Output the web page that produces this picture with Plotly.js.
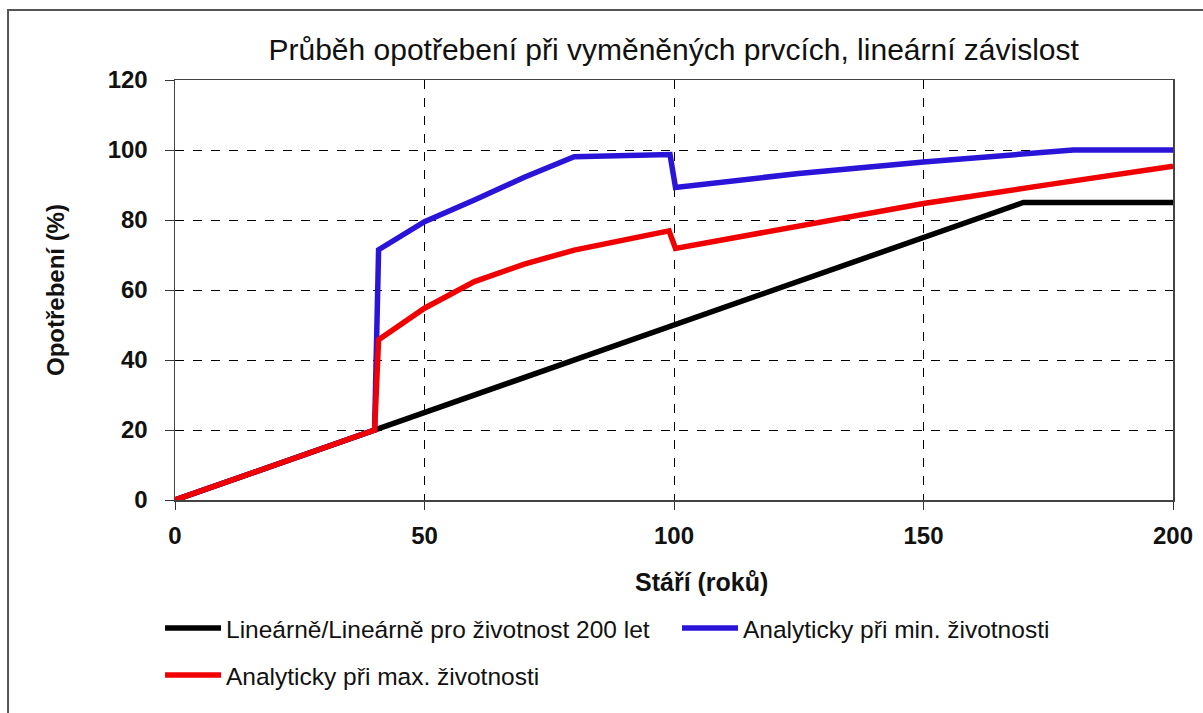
<!DOCTYPE html>
<html>
<head>
<meta charset="utf-8">
<script src="https://cdn.plot.ly/plotly-3.0.1.min.js"></script>
<style>
  html, body { margin: 0; padding: 0; background: #fff; }
  #chart { width: 1203px; height: 713px; }
</style>
</head>
<body>
<div id="chart"></div>
<script>
// data
var linX = [0, 170, 200];
var linY = [0, 85, 85];

var minX = [0, 40, 40.8, 50, 60, 70, 80, 99.2, 100.3, 125, 150, 180, 200];
var minY = [0, 20, 71.5, 79.5, 85.7, 92.2, 98.1, 98.7, 89.3, 93.3, 96.6, 100, 100];

var maxX = [0, 40, 40.8, 50, 60, 70, 80, 99, 100.3, 125, 150, 175, 200];
var maxY = [0, 20, 45.8, 54.8, 62.4, 67.4, 71.4, 76.9, 71.9, 78.3, 84.7, 90.1, 95.4];

var names = [
    'Lineárně/Lineárně pro životnost 200 let',
    'Analyticky při min. životnosti',
    'Analyticky při max. životnosti'
];

var sans = '"Liberation Sans", Arial, sans-serif';

var data = [{
    name: names[0],
    x: linX,
    y: linY,
    type: 'scatter',
    mode: 'lines',
    line: { color: '#000000', width: 5.5 },
    legend: 'legend'
}, {
    name: names[1],
    x: minX,
    y: minY,
    type: 'scatter',
    mode: 'lines',
    line: { color: '#2a14d8', width: 5.5 },
    legend: 'legend'
}, {
    name: names[2],
    x: maxX,
    y: maxY,
    type: 'scatter',
    mode: 'lines',
    line: { color: '#f00000', width: 5.5 },
    legend: 'legend2'
}];

var layout = {
    width: 1203,
    height: 713,
    paper_bgcolor: '#ffffff',
    plot_bgcolor: '#ffffff',
    margin: { l: 175, r: 30, t: 80, b: 213, autoexpand: false },
    title: {
        text: 'Průběh opotřebení při vyměněných prvcích, lineární závislost',
        font: { family: sans, size: 30, color: '#111' },
        x: 0.56,
        xanchor: 'center',
        y: 0.93,
        yanchor: 'middle'
    },
    xaxis: {
        range: [0, 200],
        tickvals: [0, 50, 100, 150, 200],
        ticks: 'outside',
        ticklen: 8,
        tickcolor: '#333',
        ticklabelstandoff: 6,
        showline: true,
        linecolor: '#444',
        linewidth: 1.5,
        mirror: true,
        showgrid: true,
        gridcolor: '#000',
        griddash: 'dash',
        gridwidth: 1,
        zeroline: false,
        tickfont: { family: sans, size: 24, color: '#111', weight: 'bold' },
        fixedrange: true
    },
    yaxis: {
        range: [0, 120],
        tickvals: [0, 20, 40, 60, 80, 100, 120],
        ticks: 'outside',
        ticklen: 9,
        tickcolor: '#333',
        ticklabelstandoff: 12,
        showline: true,
        linecolor: '#444',
        linewidth: 1.5,
        mirror: true,
        showgrid: true,
        gridcolor: '#000',
        griddash: 'dash',
        gridwidth: 1,
        zeroline: false,
        tickfont: { family: sans, size: 24, color: '#111', weight: 'bold' },
        fixedrange: true
    },
    annotations: [{
        text: 'Stáří (roků)',
        xref: 'paper', yref: 'paper',
        x: 0.528, y: -0.195,
        xanchor: 'center', yanchor: 'middle',
        showarrow: false,
        font: { family: sans, size: 25, color: '#111', weight: 'bold' }
    }, {
        text: 'Opotřebení (%)',
        xref: 'paper', yref: 'paper',
        x: -0.1202, y: 0.5,
        xanchor: 'center', yanchor: 'middle',
        textangle: -90,
        showarrow: false,
        font: { family: sans, size: 24, color: '#111', weight: 'bold' }
    }],
    showlegend: true,
    legend: {
        orientation: 'h',
        x: -0.015, xanchor: 'left',
        y: -0.305, yanchor: 'middle',
        entrywidth: 446,
        itemwidth: 56,
        font: { family: sans, size: 24.5, color: '#111' },
        bgcolor: 'rgba(0,0,0,0)'
    },
    legend2: {
        orientation: 'h',
        x: -0.015, xanchor: 'left',
        y: -0.417, yanchor: 'middle',
        itemwidth: 56,
        font: { family: sans, size: 24.5, color: '#111' },
        bgcolor: 'rgba(0,0,0,0)'
    },
    shapes: [{
        // outer chart border
        type: 'rect',
        xref: 'paper', yref: 'paper',
        x0: -0.1673, x1: 1.05,
        y0: -0.53, y1: 1.1667,
        line: { color: '#555', width: 2 },
        fillcolor: 'rgba(0,0,0,0)',
        layer: 'below'
    }]
};

var config = { staticPlot: true };

Plotly.newPlot('chart', data, layout, config);
</script>
</body>
</html>
